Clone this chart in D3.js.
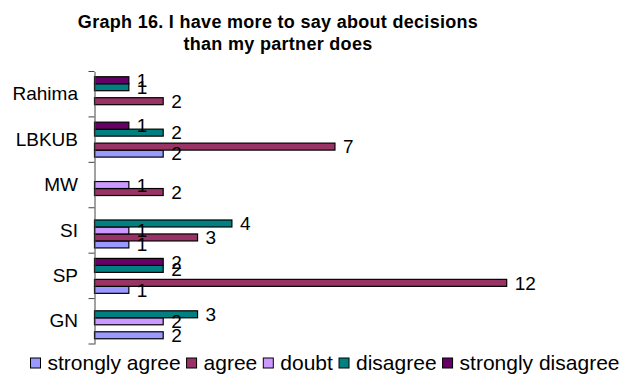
<!DOCTYPE html>
<html>
<head>
<meta charset="utf-8">
<script src="https://cdn.jsdelivr.net/npm/d3@7"></script>
<style>
  html, body { margin: 0; padding: 0; background: #fff; }
  svg { display: block; font-family: "Liberation Sans", Arial, sans-serif; }
</style>
</head>
<body>
<svg id="chart" width="640" height="383"></svg>
<script>
// Groups, top to bottom
const groups = ["Rahima", "LBKUB", "MW", "SI", "SP", "GN"];
// Answer categories (first one sits at the bottom of each group)
const seriesNames = ["strongly agree", "agree", "doubt", "disagree", "strongly disagree"];
const seriesColors = ["#9999FF", "#993366", "#CC99FF", "#008080", "#660066"];
// Counts per answer, in the order of `groups`
const stronglyAgree    = [0, 2, 0, 1, 1, 2];
const agree            = [2, 7, 2, 3, 12, 0];
const doubt            = [0, 0, 1, 1, 0, 2];
const disagree         = [1, 2, 0, 4, 2, 3];
const stronglyDisagree = [1, 1, 0, 0, 2, 0];
const seriesValues = [stronglyAgree, agree, doubt, disagree, stronglyDisagree];

const titleLines = ["Graph 16. I have more to say about decisions", "than my partner does"];

const svg = d3.select("#chart");
const plot = { left: 94.5, top: 71.5, bottom: 344 };

const x = d3.scaleLinear().domain([0, 12]).range([plot.left, plot.left + 12 * 34.35]);
const y = d3.scaleBand().domain(groups).range([plot.top, plot.bottom]).paddingInner(0).paddingOuter(0);
// 150% gap between groups: five bars take 5/6.5 of each band
const inner = d3.scaleBand()
  .domain(d3.range(seriesNames.length).reverse())
  .range([y.bandwidth() * 0.75 / 6.5, y.bandwidth() - y.bandwidth() * 0.75 / 6.5]);

// Title
svg.append("g").selectAll("text").data(titleLines).join("text")
  .attr("x", 278).attr("y", (d, i) => 28 + i * 22)
  .attr("text-anchor", "middle")
  .attr("font-weight", "bold").attr("font-size", 18)
  .attr("letter-spacing", 0.3)
  .attr("fill", "#000").text(d => d);

// Bars
const barData = [];
groups.forEach((g, gi) => {
  seriesValues.forEach((vals, si) => {
    barData.push({ g, si, v: vals[gi] });
  });
});

const bars = svg.append("g");
bars.selectAll("rect").data(barData.filter(d => d.v > 0)).join("rect")
  .attr("x", x(0))
  .attr("y", d => y(d.g) + inner(d.si))
  .attr("width", d => x(d.v) - x(0))
  .attr("height", inner.bandwidth())
  .attr("fill", d => seriesColors[d.si])
  .attr("stroke", "#000").attr("stroke-width", 1.2);

// Value labels
svg.append("g").selectAll("text").data(barData.filter(d => d.v > 0)).join("text")
  .attr("x", d => x(d.v) + 8)
  .attr("y", d => y(d.g) + inner(d.si) + inner.bandwidth() / 2)
  .attr("dy", "0.36em")
  .attr("font-size", 19).attr("fill", "#000")
  .text(d => d.v);

// Category axis
const axis = d3.axisLeft(y).tickSize(0).tickPadding(16.5);
const ag = svg.append("g").attr("transform", `translate(${plot.left},0)`).call(axis);
ag.select(".domain").attr("stroke", "#444");
ag.selectAll("text").attr("font-size", 19).attr("fill", "#000")
  .attr("font-family", "Liberation Sans, Arial, sans-serif");
// Tick marks on band boundaries
const edges = groups.map(g => y(g)).concat([plot.bottom]);
ag.selectAll(".edge").data(edges).join("line").attr("class", "edge")
  .attr("x1", -6).attr("x2", 0).attr("y1", d => d).attr("y2", d => d)
  .attr("stroke", "#444");

// Legend
const legend = svg.append("g");
let lx = 0;
const items = legend.selectAll("g").data(seriesNames).join("g");
items.append("rect").attr("width", 10).attr("height", 10).attr("y", -4)
  .attr("fill", (d, i) => seriesColors[i]).attr("stroke", "#000");
items.append("text").attr("x", 17).attr("dy", "0.36em").attr("font-size", 21)
  .attr("fill", "#000").text(d => d);
items.each(function () {
  const w = this.getBBox().width;
  d3.select(this).attr("transform", `translate(${lx},0)`);
  lx += w + 6;
});
legend.attr("transform", `translate(${328 - lx / 2},362)`);
</script>
</body>
</html>
